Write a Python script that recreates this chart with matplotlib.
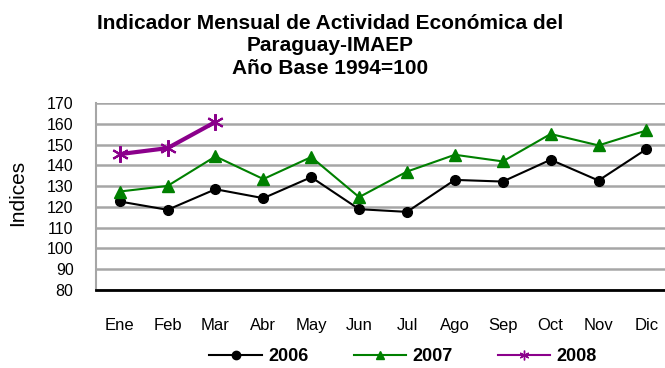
import numpy as np
import matplotlib.pyplot as plt
from matplotlib.lines import Line2D

plt.rcParams['font.family'] = ['Liberation Sans', 'DejaVu Sans']

meses = ["Ene", "Feb", "Mar", "Abr", "May", "Jun", "Jul", "Ago", "Sep", "Oct", "Nov", "Dic"]
imaep_2006 = [122.6, 118.6, 128.5, 124.2, 134.3, 118.9, 117.6, 133.0, 132.2, 142.7, 132.7, 147.8]
imaep_2007 = [127.4, 130.1, 144.3, 133.4, 144.0, 124.7, 137.0, 145.1, 141.9, 155.1, 149.6, 156.8]
imaep_2008 = [145.4, 148.3, 160.9]

fig = plt.figure(figsize=(6.65, 3.68), dpi=100)
ax = fig.add_axes([0.144, 0.212, 0.864, 0.508])

x = np.arange(len(meses))
ax.plot(x, imaep_2006, color='black', linewidth=1.5, marker='o', markersize=7)
ax.plot(x, imaep_2007, color='#008000', linewidth=1.5, marker='^', markersize=9)
ax.plot(x[:len(imaep_2008)], imaep_2008, color='#8B008B', linewidth=3,
        marker=(6, 2, 0), markersize=12, markeredgewidth=1.5)

ax.set_xlim(-0.5, 11.5)
ax.set_ylim(80, 170)
ax.set_yticks(range(80, 171, 10))
ax.set_xticks(x)
ax.set_xticklabels(meses)
ax.tick_params(axis='x', length=0, pad=20, labelsize=12)
ax.tick_params(axis='y', length=0, pad=16, labelsize=11.5)

ax.grid(axis='y', color='#a6a6a6', linewidth=1.8)
ax.set_axisbelow(True)
for s in ['top', 'right']:
    ax.spines[s].set_visible(False)
ax.spines['left'].set_color('#a6a6a6')
ax.spines['left'].set_linewidth(1.5)
ax.spines['bottom'].set_color('black')
ax.spines['bottom'].set_linewidth(2)

# eje y: etiqueta separada del borde izquierdo
ax.set_ylabel("Indices", fontsize=15)
ax.yaxis.set_label_coords((27 - 96) / (0.864 * 665), 0.52)

fig.text(0.497, 0.963,
         "Indicador Mensual de Actividad Económica del\nParaguay-IMAEP\nAño Base 1994=100",
         ha='center', va='top', fontsize=15, fontweight='bold', linespacing=1.25)

handles = [
    Line2D([], [], color='black', linewidth=1.5, marker='o', markersize=6),
    Line2D([], [], color='#008000', linewidth=1.5, marker='^', markersize=6),
    Line2D([], [], color='#8B008B', linewidth=1.5, marker=(6, 2, 0), markersize=7),
]
fig.legend(handles, ["2006", "2007", "2008"], loc='center', bbox_to_anchor=(0.606, 0.03),
           ncol=3, frameon=False, prop={'weight': 'bold', 'size': 13},
           handlelength=2.9, columnspacing=2.5, handletextpad=0.35)

fig.savefig("out.png", dpi=100)
